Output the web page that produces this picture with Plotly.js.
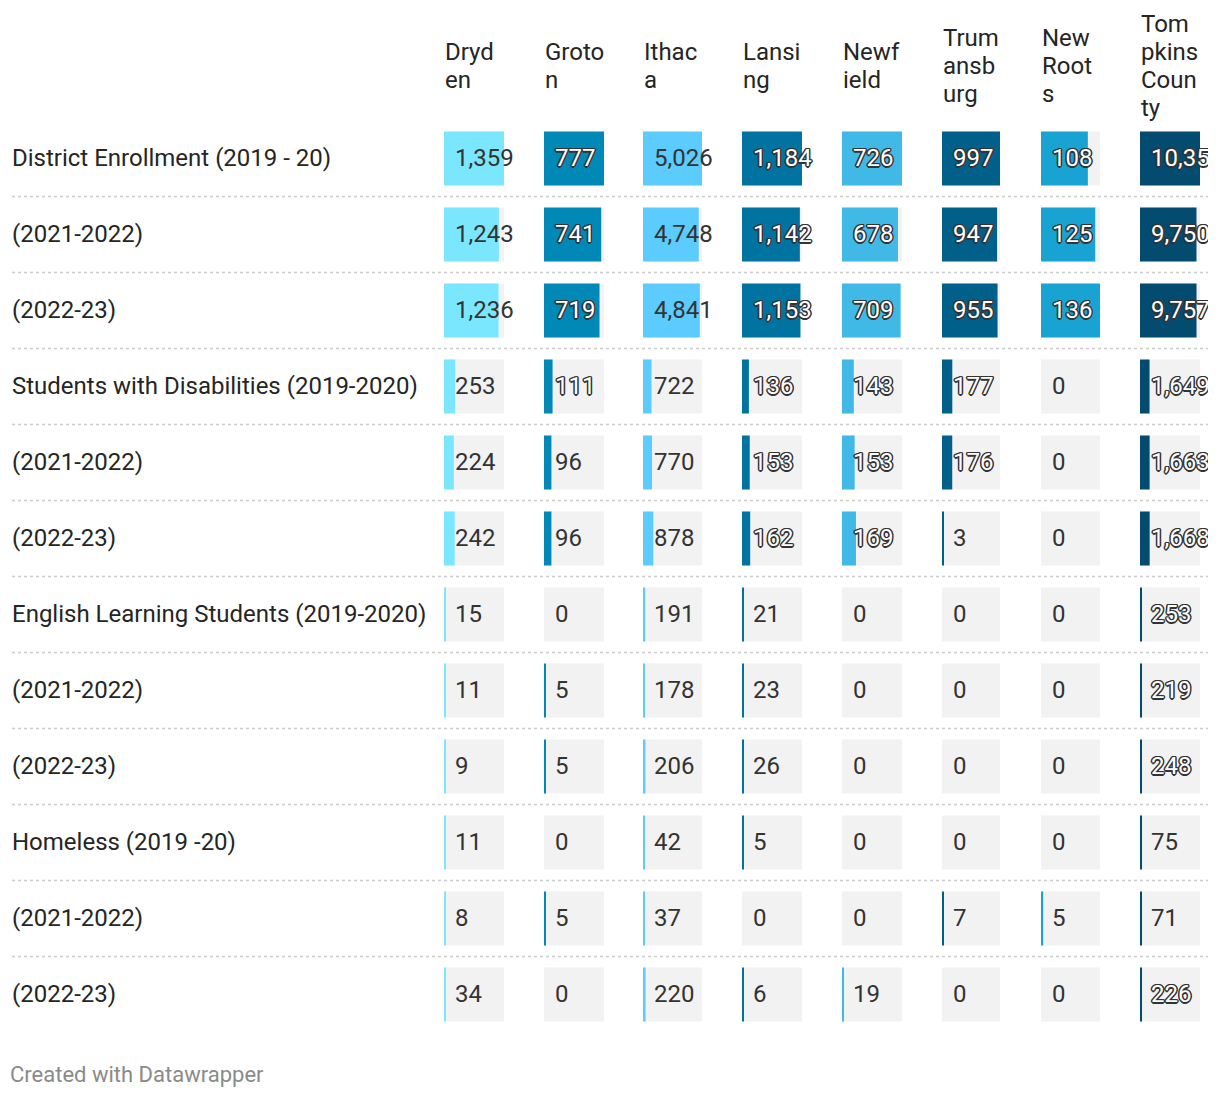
<!DOCTYPE html>
<html>
<head>
<meta charset="utf-8">
<script src="https://cdn.plot.ly/plotly-3.0.1.min.js"></script>
<style>
  html, body { margin: 0; padding: 0; background: #fff; }
  #wrap { width: 1208px; height: 1098px; overflow: hidden; }
  #chart { width: 1208px; height: 1098px; }
</style>
</head>
<body>
<div id="wrap"><div id="chart"></div></div>
<script>
// ---------------- DATA ----------------
const rowLabels = [
  "District Enrollment (2019 - 20)", "(2021-2022)", "(2022-23)",
  "Students with Disabilities (2019-2020)", "(2021-2022)", "(2022-23)",
  "English Learning Students (2019-2020)", "(2021-2022)", "(2022-23)",
  "Homeless (2019 -20)", "(2021-2022)", "(2022-23)"
];
const columnHeaders = [
  "Dryd<br>en", "Groto<br>n", "Ithac<br>a", "Lansi<br>ng",
  "Newf<br>ield", "Trum<br>ansb<br>urg", "New<br>Root<br>s", "Tom<br>pkins<br>Coun<br>ty"
];
const dryden      = [1359, 1243, 1236, 253, 224, 242, 15, 11, 9, 11, 8, 34];
const groton      = [777, 741, 719, 111, 96, 96, 0, 5, 5, 0, 5, 0];
const ithaca      = [5026, 4748, 4841, 722, 770, 878, 191, 178, 206, 42, 37, 220];
const lansing     = [1184, 1142, 1153, 136, 153, 162, 21, 23, 26, 5, 0, 6];
const newfield    = [726, 678, 709, 143, 153, 169, 0, 0, 0, 0, 0, 19];
const trumansburg = [997, 947, 955, 177, 176, 3, 0, 0, 0, 0, 7, 0];
const newRoots    = [108, 125, 136, 0, 0, 0, 0, 0, 0, 0, 5, 0];
const tompkins    = [10357, 9750, 9757, 1649, 1663, 1668, 253, 219, 248, 75, 71, 226];

const columns = [dryden, groton, ithaca, lansing, newfield, trumansburg, newRoots, tompkins];

// ---------------- STYLE ----------------
const W = 1208, H = 1098;
const rowY0 = 158.5, rowH = 76, barH = 54;
const colLeft  = [444, 544, 643, 742, 842, 942, 1041, 1140];
const colWidth = [60, 60, 59, 60, 60, 58, 59, 60];
const colColor = ["#7ae7fe", "#0089b6", "#5ccbfe", "#0073a0", "#41b9e6", "#01608a", "#19a3d2", "#034b6f"];
const darkCol  = [false, true, false, true, true, true, true, true];
const FONT = "Roboto, 'Noto Sans', Arial, sans-serif";
const outline = "-1px -1px 0 #333, 1px -1px 0 #333, -1px 1px 0 #333, 1px 1px 0 #333, 0 1.5px 0 #333, 0 -1.5px 0 #333, 1.5px 0 0 #333, -1.5px 0 0 #333";

const rowIdx = rowLabels.map((_, i) => i);
const traces = [];
const annotations = [];
const shapes = [];
const layout = {
  width: W, height: H,
  margin: {l: 0, r: 0, t: 0, b: 0},
  paper_bgcolor: "#ffffff", plot_bgcolor: "rgba(0,0,0,0)",
  showlegend: false,
  barmode: "overlay",
  font: {family: FONT, color: "#252525"},
  yaxis: {
    domain: [0, 1],
    range: [(H - rowY0) / rowH, -rowY0 / rowH],
    visible: false, fixedrange: true, showgrid: false, zeroline: false
  },
  annotations: annotations,
  shapes: shapes
};

columns.forEach((vals, c) => {
  const ax = c === 0 ? "x" : "x" + (c + 1);
  const axKey = c === 0 ? "xaxis" : "xaxis" + (c + 1);
  const maxV = Math.max(...vals);
  layout[axKey] = {
    domain: [colLeft[c] / W, (colLeft[c] + colWidth[c]) / W],
    range: [0, maxV], anchor: "y",
    visible: false, fixedrange: true, showgrid: false, zeroline: false
  };
  const minV = maxV * 2 / colWidth[c];
  // background cell
  traces.push({
    type: "bar", orientation: "h", xaxis: ax, yaxis: "y",
    y: rowIdx, x: vals.map(() => maxV), width: barH / rowH,
    marker: {color: "#f2f2f2", line: {width: 0}}, hoverinfo: "skip"
  });
  // value bar
  traces.push({
    type: "bar", orientation: "h", xaxis: ax, yaxis: "y",
    y: rowIdx, x: vals.map(v => v > 0 ? Math.max(v, minV) : 0), width: barH / rowH,
    marker: {color: colColor[c], line: {width: 0}}, hoverinfo: "skip"
  });
  // value labels
  vals.forEach((v, i) => {
    const outlined = darkCol[c] && v >= 100;
    annotations.push({
      xref: ax, yref: "y", x: 0, y: i, xanchor: "left", yanchor: "middle",
      xshift: 9, yshift: 1, showarrow: false, text: v.toLocaleString("en-US"),
      font: outlined
        ? {family: FONT, size: 24, color: "#ffffff", shadow: outline}
        : {family: FONT, size: 24, color: "#333333"}
    });
  });
  // column header (each line placed separately, vertically centred)
  const lines = columnHeaders[c].split("<br>");
  const lineH = 28, centre = 66;
  lines.forEach((ln, k) => {
    const yPix = centre + (k - (lines.length - 1) / 2) * lineH;
    annotations.push({
      xref: ax, yref: "paper", x: 0, y: 1 - yPix / H,
      xanchor: "left", yanchor: "middle", xshift: -1, showarrow: false,
      text: ln, font: {family: FONT, size: 24, color: "#252525"}
    });
  });
});

// row labels
rowLabels.forEach((lab, i) => {
  annotations.push({
    xref: "paper", yref: "y", x: 10 / W, y: i, xanchor: "left", yanchor: "middle",
    yshift: 1, showarrow: false, text: lab, font: {family: FONT, size: 24, color: "#252525"}
  });
});

// dotted separators between rows
for (let i = 0; i < rowLabels.length - 1; i++) {
  shapes.push({
    type: "line", xref: "paper", yref: "y", x0: 12 / W, x1: 1, y0: i + 0.5, y1: i + 0.5,
    line: {color: "#cccccc", width: 1.5, dash: "dot"}
  });
}

// footer
annotations.push({
  xref: "paper", yref: "paper", x: 8 / W, y: 1 - 1074 / H, xanchor: "left", yanchor: "middle",
  showarrow: false, text: "Created with Datawrapper", font: {family: FONT, size: 22, color: "#8a8a8a"}
});

Plotly.newPlot("chart", traces, layout, {staticPlot: true, displayModeBar: false});
</script>
</body>
</html>
